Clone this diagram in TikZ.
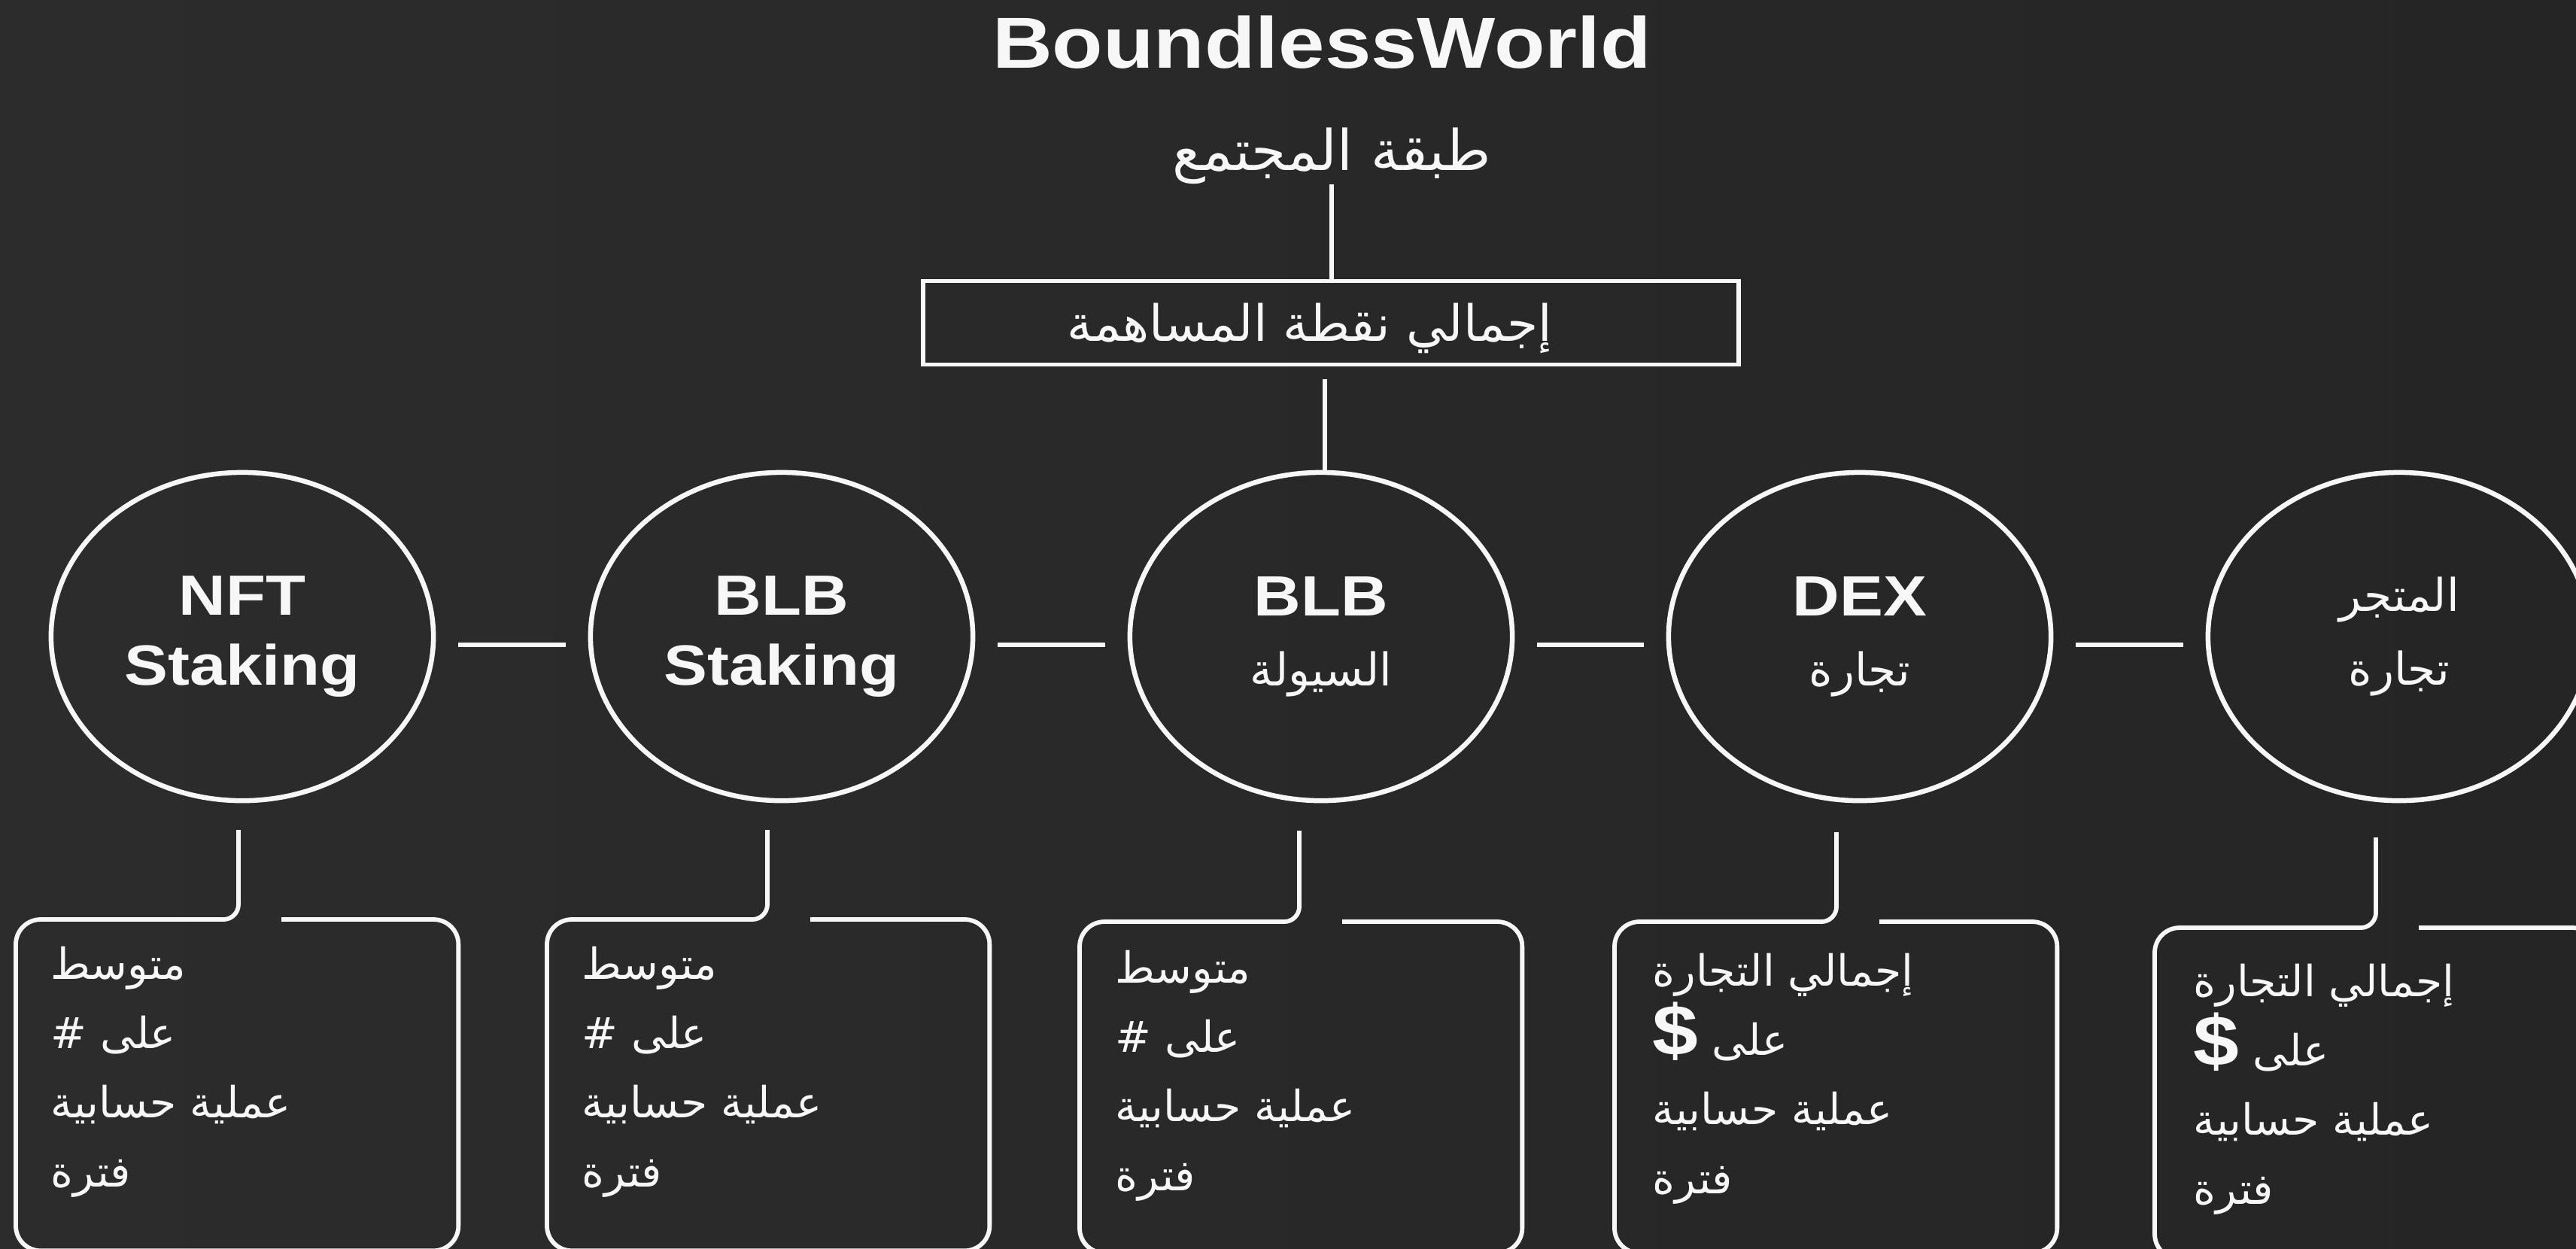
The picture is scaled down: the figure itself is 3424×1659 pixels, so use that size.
\documentclass[tikz,border=0pt]{standalone}
\usepackage{fontspec}
\usetikzlibrary{shapes.geometric,calc}
\TeXXeTstate=1
\newfontfamily\lsans[FakeStretch=1.15]{Liberation Sans}
\newfontfamily\arabicfont[Script=Arabic]{DejaVu Sans}
\definecolor{bgA}{HTML}{2C2C2C}
\definecolor{bgB}{HTML}{252525}
\definecolor{ink}{HTML}{F7F7F7}
\newcommand\artxt[1]{{\arabicfont\beginR #1\endR}}
\newcommand\dollar{{\lsans\bfseries\fontsize{0.95cm}{0.92cm}\selectfont\$}}
\tikzset{
  oval/.style={ellipse, draw=ink, line width=0.065cm, minimum width=5.08cm, minimum height=4.36cm,
    inner sep=0pt, align=center, text=ink, font=\lsans\bfseries\fontsize{0.754cm}{0.93cm}\selectfont},
  boxframe/.style={rectangle, minimum width=5.88cm, minimum height=4.4cm, inner sep=0pt, outer sep=0pt},
  btext/.style={anchor=north west, inner sep=0pt, align=left, text=ink,
    font=\arabicfont\fontsize{0.57cm}{0.92cm}\selectfont},
  conn/.style={draw=ink, line width=0.058cm},
  boxline/.style={draw=ink, line width=0.058cm, rounded corners=0.33cm},
  bendline/.style={draw=ink, line width=0.058cm, rounded corners=0.2cm},
}
\begin{document}
\begin{tikzpicture}[x=0.01cm, y=-0.01cm]
\useasboundingbox (0,0) rectangle (3424,1659);
\shade[left color=bgA, right color=bgB] (0,0) rectangle (3424,1659);

% title and header
\node[anchor=base, text=ink, inner sep=0pt, font=\lsans\bfseries\fontsize{0.96cm}{1.1cm}\selectfont] (title) at (1757,90) {BoundlessWorld};
\node[inner sep=0pt, text=ink, font=\arabicfont\fontsize{0.745cm}{1cm}\selectfont] (sub) at (1770,207) {\artxt{طبقة المجتمع}};
\node[rectangle, draw=ink, line width=0.058cm, minimum width=10.83cm, minimum height=1.11cm, inner sep=0pt] (tbox) at (1769,429) {};
\node[inner sep=0pt, text=ink, font=\arabicfont\fontsize{0.665cm}{1cm}\selectfont] (ttext) at (1741,436) {\artxt{إجمالي نقطة المساهمة}};

% ellipses
\node[oval] (e1) at (322,846) {NFT\\Staking};
\node[oval] (e2) at (1039,846) {BLB\\Staking};
\node[oval] (e3) at (1756,846) {BLB\\{\arabicfont\mdseries\fontsize{0.6cm}{0.93cm}\selectfont\beginR السيولة\endR}};
\node[oval] (e4) at (2472,846) {DEX\\{\arabicfont\mdseries\fontsize{0.6cm}{0.93cm}\selectfont\beginR تجارة\endR}};
\node[oval, font=\arabicfont\mdseries\fontsize{0.6cm}{0.97cm}\selectfont] (e5) at (3189,846) {\artxt{المتجر}\\\artxt{تجارة}};

% header connectors
\draw[conn] (sub.south) -- (sub.south |- tbox.north);
\draw[conn, shorten <=0.17cm] ([xshift=0.05cm]e3.north |- tbox.south) -- ([xshift=0.05cm]e3.north);

% horizontal connectors
\draw[conn, shorten <=0.3cm, shorten >=0.3cm] ([yshift=-0.11cm]e1.east) -- ([yshift=-0.11cm]e2.west);
\draw[conn, shorten <=0.3cm, shorten >=0.3cm] ([yshift=-0.11cm]e2.east) -- ([yshift=-0.11cm]e3.west);
\draw[conn, shorten <=0.3cm, shorten >=0.3cm] ([yshift=-0.11cm]e3.east) -- ([yshift=-0.11cm]e4.west);
\draw[conn, shorten <=0.3cm, shorten >=0.3cm] ([yshift=-0.11cm]e4.east) -- ([yshift=-0.11cm]e5.west);

% lower boxes
\node[boxframe, anchor=north west] (b1) at (21,1222) {};
\node[boxframe, anchor=north west] (b2) at (727,1222) {};
\node[boxframe, anchor=north west] (b3) at (1435,1225) {};
\node[boxframe, anchor=north west] (b4) at (2146,1225) {};
\node[boxframe, anchor=north west] (b5) at (2864,1233) {};

\coordinate (k1) at (317,1103);
\coordinate (k2) at (1020,1103);
\coordinate (k3) at (1727,1104);
\coordinate (k4) at (2441,1106);
\coordinate (k5) at (3158,1113);

\foreach \i in {1,...,5}{
  \draw[boxline] ($(k\i |- b\i.north)+(57,0)$) -- (b\i.north east) -- (b\i.south east) -- (b\i.south west) -- (b\i.north west) -- ($(k\i |- b\i.north)+(-20,0)$);
  \draw[bendline] (k\i) -- (k\i |- b\i.north) -- ++(-40,0);
}

\node[btext] (t1) at (67,1257) {\artxt{متوسط}\\\artxt{على \#}\\\artxt{عملية حسابية}\\\artxt{فترة}};
\node[btext] (t2) at (773,1257) {\artxt{متوسط}\\\artxt{على \#}\\\artxt{عملية حسابية}\\\artxt{فترة}};
\node[btext] (t3) at (1482,1262) {\artxt{متوسط}\\\artxt{على \#}\\\artxt{عملية حسابية}\\\artxt{فترة}};
\node[btext] (t4) at (2196,1266) {\artxt{إجمالي التجارة}\\\artxt{على \dollar}\\\artxt{عملية حسابية}\\\artxt{فترة}};
\node[btext] (t5) at (2915,1280) {\artxt{إجمالي التجارة}\\\artxt{على \dollar}\\\artxt{عملية حسابية}\\\artxt{فترة}};
\end{tikzpicture}
\end{document}
